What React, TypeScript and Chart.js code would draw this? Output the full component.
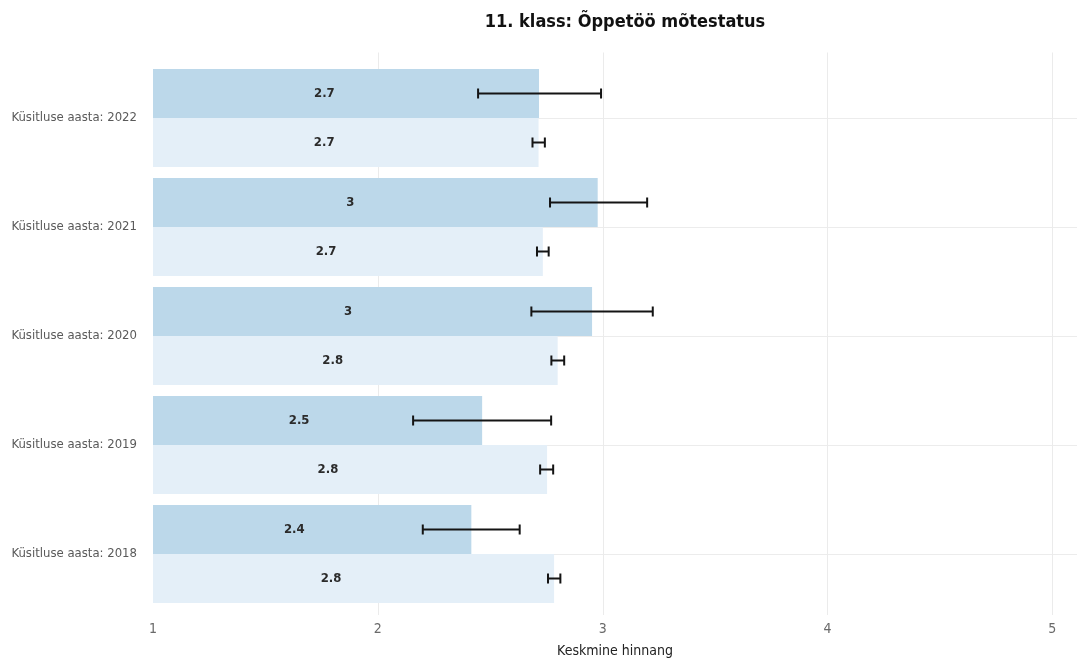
import React, { useEffect, useRef } from "react";
import { Chart, registerables } from "chart.js";

Chart.register(...registerables);

const titleText = "11. klass: Õppetöö mõtestatus";
const xAxisTitle = "Keskmine hinnang";
const categories = [
  "Küsitluse aasta: 2022",
  "Küsitluse aasta: 2021",
  "Küsitluse aasta: 2020",
  "Küsitluse aasta: 2019",
  "Küsitluse aasta: 2018",
];
const xTicks = [1, 2, 3, 4, 5];

const schoolValues = [2.717, 2.978, 2.953, 2.464, 2.416];
const schoolLow = [2.446, 2.766, 2.683, 2.157, 2.2];
const schoolHigh = [2.993, 3.198, 3.223, 2.771, 2.631];

const allValues = [2.715, 2.734, 2.8, 2.753, 2.784];
const allLow = [2.688, 2.708, 2.772, 2.722, 2.757];
const allHigh = [2.743, 2.76, 2.829, 2.78, 2.812];

const FONT = "'DejaVu Sans Condensed', 'DejaVu Sans', sans-serif";

const errorLows = [schoolLow, allLow];
const errorHighs = [schoolHigh, allHigh];

const fmt = (v: number) => String(Number(v.toFixed(1)));

const vGridPlugin = {
  id: "vgrid",
  beforeDatasetsDraw(chart: any) {
    const { ctx, chartArea, scales } = chart;
    ctx.save();
    ctx.strokeStyle = "#ebebeb";
    ctx.lineWidth = 1;
    xTicks.slice(1).forEach((v) => {
      const x = Math.round(scales.x.getPixelForValue(v)) + 0.5;
      ctx.beginPath();
      ctx.moveTo(x, chartArea.top - 11);
      ctx.lineTo(x, chartArea.bottom + 6.5);
      ctx.stroke();
    });
    ctx.restore();
  },
};

const overlayPlugin = {
  id: "overlay",
  afterDatasetsDraw(chart: any) {
    const { ctx, scales, chartArea } = chart;
    ctx.save();
    chart.data.datasets.forEach((ds: any, di: number) => {
      const meta = chart.getDatasetMeta(di);
      meta.data.forEach((el: any, i: number) => {
        const v = ds.data[i];
        const left = chartArea.left;
        const tx = left + 0.444 * (el.x - left);
        ctx.fillStyle = "#2b2b2b";
        ctx.font = `bold 13px ${FONT}`;
        ctx.textAlign = "center";
        ctx.textBaseline = "middle";
        ctx.fillText(fmt(v), tx, el.y);
        const lo = scales.x.getPixelForValue(errorLows[di][i]);
        const hi = scales.x.getPixelForValue(errorHighs[di][i]);
        ctx.strokeStyle = "#141414";
        ctx.lineWidth = 2;
        ctx.beginPath();
        ctx.moveTo(lo, el.y);
        ctx.lineTo(hi, el.y);
        ctx.moveTo(lo, el.y - 5);
        ctx.lineTo(lo, el.y + 5);
        ctx.moveTo(hi, el.y - 5);
        ctx.lineTo(hi, el.y + 5);
        ctx.stroke();
      });
    });
    ctx.restore();
  },
  afterDraw(chart: any) {
    const { ctx, chartArea } = chart;
    ctx.save();
    ctx.fillStyle = "#111111";
    ctx.font = `bold 18px ${FONT}`;
    ctx.textAlign = "center";
    ctx.textBaseline = "middle";
    ctx.fillText(titleText, (chartArea.left + chartArea.right) / 2 + 10, 22);
    ctx.restore();
  },
};

export default function App() {
  const ref = useRef<HTMLCanvasElement>(null);
  useEffect(() => {
    document.body.style.margin = "0";
    const chart = new Chart(ref.current as HTMLCanvasElement, {
      type: "bar",
      data: {
        labels: categories,
        datasets: [
          {
            label: "Kool",
            data: schoolValues,
            base: 1,
            backgroundColor: "rgb(188,216,234)",
            categoryPercentage: 0.9,
            barPercentage: 1.0,
          },
          {
            label: "Kõik",
            data: allValues,
            base: 1,
            backgroundColor: "rgb(228,239,248)",
            categoryPercentage: 0.9,
            barPercentage: 1.0,
          },
        ],
      },
      options: {
        indexAxis: "y",
        responsive: false,
        animation: false,
        layout: { padding: { top: 63.5, right: 0, bottom: 0, left: 0 } },
        plugins: {
          legend: { display: false },
          title: { display: false },
          tooltip: { enabled: false },
        },
        scales: {
          x: {
            type: "linear",
            min: 1,
            max: 5.11,
            afterBuildTicks: (scale: any) => {
              scale.ticks = xTicks.map((v) => ({ value: v }));
            },
            afterFit: (scale: any) => {
              scale.height = 51.5;
            },
            grid: { display: false, drawTicks: false },
            border: { display: false },
            ticks: {
              color: "#6a6a6a",
              font: { family: FONT, size: 14 },
              padding: 12,
              callback: (v: any) => String(v),
            },
            title: {
              display: true,
              text: xAxisTitle,
              color: "#222222",
              font: { family: FONT, size: 14 },
              padding: { top: 0, bottom: 0 },
            },
          },
          y: {
            type: "category",
            afterFit: (scale: any) => {
              scale.width = 153;
            },
            grid: { display: true, offset: false, color: "#ececec", drawTicks: false },
            border: { display: false },
            ticks: {
              color: "#5a5a5a",
              font: { family: FONT, size: 13 },
              padding: 16,
            },
          },
        },
      },
      plugins: [vGridPlugin, overlayPlugin],
    } as any);
    return () => chart.destroy();
  }, []);
  return (
    <div style={{ width: 1077, height: 660 }}>
      <canvas ref={ref} width={1077} height={660} />
    </div>
  );
}
